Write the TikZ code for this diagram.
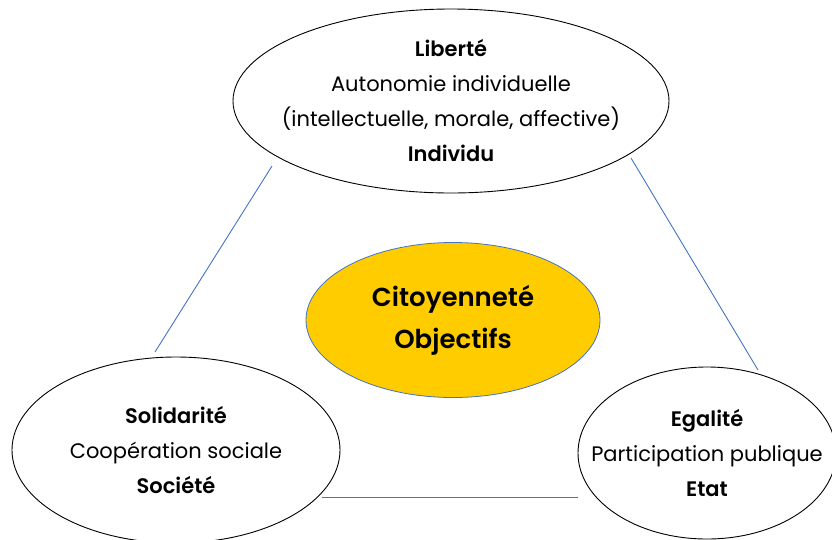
\documentclass[tikz,border=0pt]{standalone}
\usepackage{fontspec}
\setmainfont{Poppins}[BoldFont={Poppins SemiBold}]
\usetikzlibrary{shapes.geometric}
\definecolor{bleulien}{HTML}{4472C4}
\definecolor{jaune}{HTML}{FFCC00}
\newcommand{\valeur}[3]{%
  \textbf{#1}\\#2\\\textbf{#3}%
}

\begin{document}
\begin{tikzpicture}[
      x=1pt, y=-1pt,
      every node/.style={inner sep=0pt,font=\fontsize{21}{35}\selectfont,align=center},
      bulle/.style={ellipse,draw=black,line width=0.9pt},
      coeur/.style={ellipse,draw=bleulien,fill=jaune,line width=0.8pt},
      trait/.style={draw=bleulien,line width=0.9pt}
    ]
      \useasboundingbox (0,0) rectangle (832,539);
      % les trois valeurs
      \node[bulle,minimum width=436pt,minimum height=184pt] (liberte) at (451,101) {};
      \node (liberte-txt) at (liberte) {\valeur{Liberté}{Autonomie individuelle\\(intellectuelle, morale, affective)}{Individu}};
      \node[bulle,minimum width=328pt,minimum height=186pt] (solidarite) at (176,450) {};
      \node (solidarite-txt) at (solidarite) {\valeur{Solidarité}{Coopération sociale}{Société}};
      \node[bulle,minimum width=258pt,minimum height=172pt] (egalite) at (707,453) {};
      \node (egalite-txt) at (egalite) {\valeur{Egalité}{Participation publique}{Etat}};
      % le centre
      \node[coeur,minimum width=294pt,minimum height=155pt] (citoyennete) at (453,320) {};
      \node[font=\fontsize{26}{42}\selectfont\bfseries] (citoyennete-txt) at (citoyennete) {Citoyenneté\\Objectifs};
      % les liens
      \coordinate (l1) at (272,166);
      \coordinate (s1) at (155,352);
      \coordinate (l2) at (631,158);
      \coordinate (e1) at (758,370);
      \coordinate (s2) at (322,497);
      \coordinate (e2) at (578,497);
      \draw[trait] (l1) -- (s1);
      \draw[trait] (l2) -- (e1);
      \draw[trait] (s2) -- (e2);
    \end{tikzpicture}
\end{document}
